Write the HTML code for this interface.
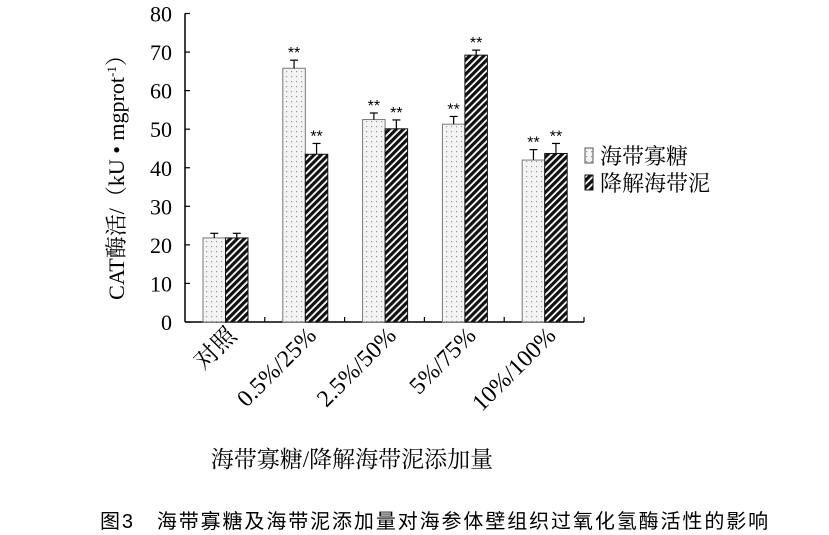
<!DOCTYPE html>
<html><head><meta charset="utf-8"><style>
body{margin:0;background:#fff;}
svg{display:block;font-family:"Liberation Serif","Noto Serif CJK SC",serif;}
</style></head><body>
<svg id="chart" width="829" height="535" viewBox="0 0 829 535">
<defs>
<pattern id="dots" width="5" height="5" patternUnits="userSpaceOnUse"><rect width="5" height="5" fill="#f4f4f4"/><rect x="1" y="1" width="1.2" height="1.2" fill="#999"/></pattern>
<pattern id="hatch" width="5" height="5" patternUnits="userSpaceOnUse" patternTransform="rotate(-45)"><rect width="5" height="5" fill="#fff"/><rect width="5" height="3.2" fill="#111"/></pattern>
</defs>
<g id="plot"></g>
<text x="124" y="172" font-size="22" text-anchor="middle" transform="rotate(-90 124 172)">CAT酶活/（kU • mgprot<tspan font-size="13" dy="-8">-1</tspan><tspan dy="8">）</tspan></text>
<text x="352" y="467" font-size="23" text-anchor="middle">海带寡糖/降解海带泥添加量</text>
<g><rect x="585" y="148" width="8" height="15" fill="url(#dots)" stroke="#555"/><text x="600" y="164" font-size="22">海带寡糖</text></g>
<g><rect x="585" y="175" width="8" height="15" fill="url(#hatch)" stroke="#111"/><text x="600" y="191" font-size="22">降解海带泥</text></g>
<text x="100" y="528" font-size="20" letter-spacing="1.9" font-family="Liberation Sans, Noto Sans CJK SC, sans-serif">图3　海带寡糖及海带泥添加量对海参体壁组织过氧化氢酶活性的影响</text>
</svg>
<script>
const categories=["对照","0.5%/25%","2.5%/50%","5%/75%","10%/100%"];
const seriesA=[21.8,65.8,52.5,51.3,42.0];
const seriesB=[21.8,43.5,50.1,69.2,43.7];
const errA=[1.2,2.1,1.7,2.0,2.7];
const errB=[1.2,2.8,2.3,1.3,2.6];
const sigA=["","**","**","**","**"];
const sigB=["","**","**","**","**"];
const yTicks=[0,10,20,30,40,50,60,70,80];
const NS="http://www.w3.org/2000/svg";
const g=document.getElementById("plot");
const x0=185,x1=584,y0=322,yTop=13.5,yMax=80;
const cw=(x1-x0)/categories.length;
const y=v=>y0-(v/yMax)*(y0-yTop);
const cx=i=>x0+i*cw;
function el(t,a){const e=document.createElementNS(NS,t);for(const k in a)e.setAttribute(k,a[k]);g.appendChild(e);return e;}
let e=el("line",{x1:x0,y1:yTop,x2:x0,y2:y0,stroke:"#000","stroke-width":1.5});


e=el("line",{x1:x0,y1:y0,x2:x1,y2:y0,stroke:"#000","stroke-width":1.5});


yTicks.forEach(t=>{
 el("line",{x1:x0,y1:y(t),x2:x0+5,y2:y(t),stroke:"#000","stroke-width":1.2});
 const tx=el("text",{x:x0-13,y:y(t)+8,"font-size":22,"text-anchor":"end"});tx.textContent=t;
 
 
});
for(let i=1;i<=categories.length;i++)el("line",{x1:cx(i),y1:y0,x2:cx(i),y2:y0-5,stroke:"#000","stroke-width":1.2});
const bw=22.5;
categories.forEach((c,i)=>{
 const bx=cx(i)+18;
 [[seriesA,errA,sigA,"url(#dots)","#777","bar-oligosaccharide"],[seriesB,errB,sigB,"url(#hatch)","#111","bar-kelp-mud"]].forEach((s,k)=>{
  const v=s[0][i],er=s[1][i],xx=bx+k*bw;
  const r=el("rect",{x:xx,y:y(v),width:bw,height:y0-y(v),fill:s[3],stroke:s[4],"stroke-width":1});
  
  
  const m=xx+bw/2;
  el("line",{x1:m,y1:y(v),x2:m,y2:y(v+er),stroke:"#000","stroke-width":1.2});
  el("line",{x1:m-4,y1:y(v+er),x2:m+4,y2:y(v+er),stroke:"#000","stroke-width":1.2});
  if(s[2][i]){const t=el("text",{x:m,y:y(v+er)-2,"font-size":16,"text-anchor":"middle","font-family":"Liberation Sans, sans-serif"});t.textContent=s[2][i];
   
   }
 });
 const lx=cx(i)+cw/2+13,ly=337;
 const t=el("text",{x:lx,y:ly,"font-size":24,"text-anchor":"end",transform:`rotate(-45 ${lx} ${ly})`});
 t.textContent=c;
 
 
});
</script>
</body></html>
